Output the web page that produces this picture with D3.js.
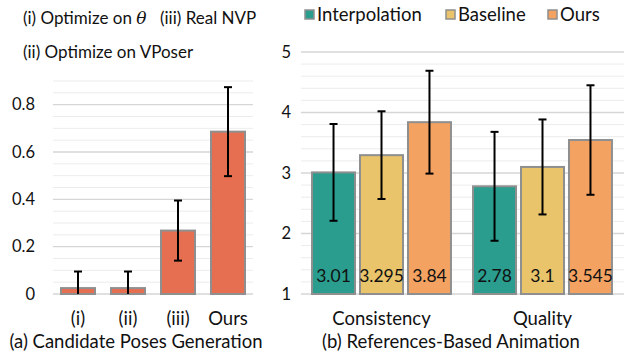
<!DOCTYPE html>
<html><head><meta charset="utf-8">
<script src="https://cdn.jsdelivr.net/npm/d3@7"></script>
<style>
html,body{margin:0;padding:0;background:#fff;}
svg{display:block;}
text{font-family:Lato,"Open Sans",sans-serif;fill:#111;}
</style></head>
<body>
<svg id="c" width="624" height="356"></svg>
<script>
// ---- Data ----
const leftCategories = ["(i)", "(ii)", "(iii)", "Ours"];
const leftValues = [0.025, 0.025, 0.268, 0.686];
const leftErrors = [0.07, 0.07, 0.127, 0.188];
const leftTicks = [0, 0.2, 0.4, 0.6, 0.8];
const leftTickLabels = ["0", "0.2", "0.4", "0.6", "0.8"];
const leftLegend = [["(i) Optimize on ", "θ"], ["(iii) Real NVP", ""], ["(ii) Optimize on VPoser", ""]];

const rightGroups = ["Consistency", "Quality"];
const rightSeries = ["Interpolation", "Baseline", "Ours"];
const interpValues = [3.01, 2.78];
const baselineValues = [3.295, 3.1];
const oursValues = [3.84, 3.545];
const interpErrors = [0.80, 0.90];
const baselineErrors = [0.725, 0.785];
const oursErrors = [0.85, 0.905];
const rightTicks = [1, 2, 3, 4, 5];
const rightValueLabels = [["3.01", "3.295", "3.84"], ["2.78", "3.1", "3.545"]];

const titleA = "(a) Candidate Poses Generation";
const titleB = "(b) References-Based Animation";

// ---- Styles ----
const colLeft = "#e76f51";
const seriesColors = ["#2a9d8f", "#e9c46a", "#f4a261"];
const barStroke = "#8f8f8f";
const gridMajor = "#d6d6d6";
const gridMinor = "#ececec";

const svg = d3.select("#c");

// ================= Left chart =================
const gL = svg.append("g");
const yL = d3.scaleLinear().domain([0, 0.9]).range([294, 81]);
const xL = d3.scaleBand().domain(leftCategories).range([53, 253]).paddingInner(0.32).paddingOuter(0.16);

const leftGrid = d3.range(0, 0.9001, 0.05);
gL.selectAll("line.grid").data(leftGrid).join("line")
  .attr("x1", 53).attr("x2", 253)
  .attr("y1", d => yL(d)).attr("y2", d => yL(d))
  .attr("stroke", d => (Math.abs((d / 0.2) - Math.round(d / 0.2)) < 1e-6) ? gridMajor : gridMinor)
  .attr("stroke-width", d => (Math.abs((d / 0.2) - Math.round(d / 0.2)) < 1e-6) ? 1.4 : 1);

gL.selectAll("text.yt").data(leftTicks).join("text")
  .attr("x", 35).attr("y", d => yL(d)).attr("dy", "0.35em")
  .attr("text-anchor", "end").attr("font-size", 16.5)
  .text((d, i) => leftTickLabels[i]);

gL.selectAll("rect.bar").data(leftValues).join("rect")
  .attr("x", (d, i) => xL(leftCategories[i]))
  .attr("width", xL.bandwidth())
  .attr("y", d => yL(d))
  .attr("height", d => yL(0) - yL(d))
  .attr("fill", colLeft).attr("stroke", barStroke).attr("stroke-width", 2);

const capW = 8;
const errL = gL.selectAll("g.err").data(leftValues).join("g");
errL.each(function(d, i) {
  const cx = xL(leftCategories[i]) + xL.bandwidth() / 2;
  const top = yL(d + leftErrors[i]);
  const bot = yL(Math.max(0, d - leftErrors[i]));
  const g = d3.select(this);
  g.append("line").attr("x1", cx).attr("x2", cx).attr("y1", top).attr("y2", bot).attr("stroke", "#000").attr("stroke-width", 2);
  g.append("line").attr("x1", cx - capW / 2).attr("x2", cx + capW / 2).attr("y1", top).attr("y2", top).attr("stroke", "#000").attr("stroke-width", 2);
  if (d - leftErrors[i] > 0)
    g.append("line").attr("x1", cx - capW / 2).attr("x2", cx + capW / 2).attr("y1", bot).attr("y2", bot).attr("stroke", "#000").attr("stroke-width", 2);
});

gL.selectAll("text.xl").data(leftCategories).join("text")
  .attr("x", d => xL(d) + xL.bandwidth() / 2).attr("y", 319).attr("dy", "0.35em")
  .attr("text-anchor", "middle").attr("font-size", 18.5)
  .text(d => d);

gL.append("text").attr("x", 136).attr("y", 342).attr("dy", "0.35em")
  .attr("text-anchor", "middle").attr("font-size", 18.5).text(titleA);

// left legend (text only)
const legPos = [[23, 18], [160, 18], [23, 52]];
leftLegend.forEach((l, i) => {
  const t = gL.append("text").attr("x", legPos[i][0]).attr("y", legPos[i][1]).attr("dy", "0.35em").attr("font-size", 17);
  t.append("tspan").text(l[0]);
  if (l[1]) t.append("tspan").attr("font-family", "'DejaVu Serif','Liberation Serif',serif").attr("font-style", "italic").text(l[1]);
});

// ================= Right chart =================
const gR = svg.append("g");
const yR = d3.scaleLinear().domain([1, 5]).range([294, 52]);
const x0 = d3.scaleBand().domain(rightGroups).range([301, 623]).paddingInner(0.137).paddingOuter(0.0685);
const x1 = d3.scaleBand().domain(rightSeries).range([0, x0.bandwidth()]).paddingInner(0.104).paddingOuter(0);

const rightGrid = d3.range(1, 5.0001, 0.2);
gR.selectAll("line.grid").data(rightGrid).join("line")
  .attr("x1", 301).attr("x2", 624)
  .attr("y1", d => yR(d)).attr("y2", d => yR(d))
  .attr("stroke", d => (Math.abs(d - Math.round(d)) < 1e-6) ? gridMajor : gridMinor)
  .attr("stroke-width", d => (Math.abs(d - Math.round(d)) < 1e-6) ? 1.4 : 1);

gR.selectAll("text.yt").data(rightTicks).join("text")
  .attr("x", 291).attr("y", d => yR(d)).attr("dy", "0.35em")
  .attr("text-anchor", "end").attr("font-size", 16.5)
  .text(d => d);

const seriesVals = [interpValues, baselineValues, oursValues];
const seriesErrs = [interpErrors, baselineErrors, oursErrors];
const rows = [];
rightGroups.forEach((g, gi) => rightSeries.forEach((s, si) => rows.push({g, s, gi, si, v: seriesVals[si][gi], e: seriesErrs[si][gi], label: rightValueLabels[gi][si]})));

gR.selectAll("rect.bar").data(rows).join("rect")
  .attr("x", d => x0(d.g) + x1(d.s)).attr("width", x1.bandwidth())
  .attr("y", d => yR(d.v)).attr("height", d => yR(1) - yR(d.v))
  .attr("fill", d => seriesColors[d.si]).attr("stroke", barStroke).attr("stroke-width", 2);

gR.selectAll("text.val").data(rows).join("text")
  .attr("x", d => x0(d.g) + x1(d.s) + x1.bandwidth() / 2).attr("y", 276).attr("dy", "0.35em")
  .attr("text-anchor", "middle").attr("font-size", 17.5).text(d => d.label);

rows.forEach(d => {
  const cx = x0(d.g) + x1(d.s) + x1.bandwidth() / 2;
  const top = yR(d.v + d.e), bot = yR(d.v - d.e);
  gR.append("line").attr("x1", cx).attr("x2", cx).attr("y1", top).attr("y2", bot).attr("stroke", "#000").attr("stroke-width", 2);
  [top, bot].forEach(y => gR.append("line").attr("x1", cx - capW / 2).attr("x2", cx + capW / 2).attr("y1", y).attr("y2", y).attr("stroke", "#000").attr("stroke-width", 2));
});

gR.selectAll("text.xl").data(rightGroups).join("text")
  .attr("x", d => x0(d) + x0.bandwidth() / 2).attr("y", 319).attr("dy", "0.35em")
  .attr("text-anchor", "middle").attr("font-size", 18.5).text(d => d);

gR.append("text").attr("x", 451).attr("y", 342).attr("dy", "0.35em")
  .attr("text-anchor", "middle").attr("font-size", 18.5).text(titleB);

// right legend
const legX = [305, 446, 548];
rightSeries.forEach((s, i) => {
  gR.append("rect").attr("x", legX[i]).attr("y", 10).attr("width", 9).attr("height", 9)
    .attr("fill", seriesColors[i]).attr("stroke", barStroke).attr("stroke-width", 1.5);
  gR.append("text").attr("x", legX[i] + 12).attr("y", 14.5).attr("dy", "0.35em").attr("font-size", 18.5).text(s);
});
</script>
</body></html>
